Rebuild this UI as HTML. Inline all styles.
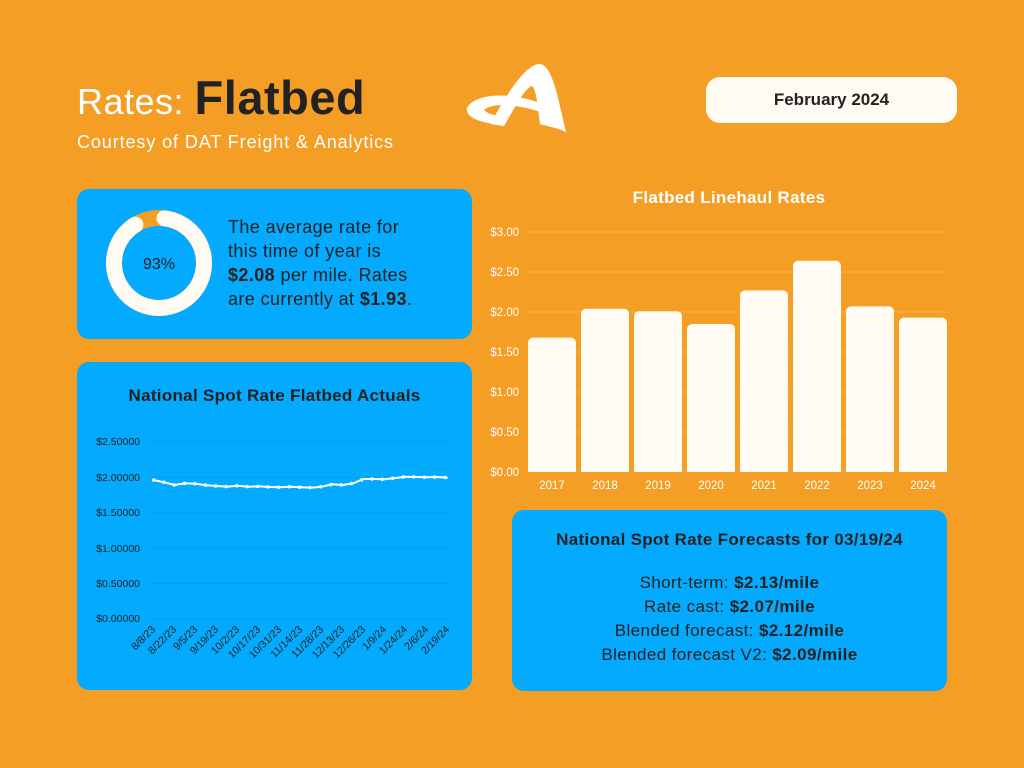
<!DOCTYPE html>
<html><head><meta charset="utf-8"><style>
body{margin:0;width:1024px;height:768px;background:#F59E25;font-family:"Liberation Sans",sans-serif;position:relative;overflow:hidden}
.a{position:absolute}
.card{position:absolute;background:#03AAFE;border-radius:12px}
.dk{color:#222}
</style></head><body>
<div class="a" style="left:77px;top:70px;font-size:36px;color:#fff;white-space:nowrap;letter-spacing:0.5px">Rates: <b class="dk" style="font-size:47px;letter-spacing:0.5px">Flatbed</b></div>
<div class="a" style="left:77px;top:132px;font-size:18px;color:#fff;letter-spacing:0.9px">Courtesy of DAT Freight &amp; Analytics</div>
<svg class="a" style="left:460px;top:58px" width="110" height="80" viewBox="0 0 110 80">
<path d="M30 66 C45 40 62 10 78 6 C92 4 98 40 106 74 C98 70 86 68 80 66 C78 50 76 30 72 28 C64 30 52 55 44 68 Z" fill="#fff"/>
<path d="M8 48 C20 34 55 34 88 48 L86 56 C60 46 32 44 24 52 C30 58 40 58 48 58 L42 66 C20 66 2 58 8 48 Z" fill="#fff"/>
</svg>
<div class="a" style="left:706px;top:77px;width:251px;height:46px;background:#FFFBF2;border-radius:14px;text-align:center;line-height:46px;font-weight:bold;font-size:17px;color:#222">February 2024</div>

<div class="card" style="left:77px;top:189px;width:395px;height:150px"></div>
<svg class="a" style="left:100px;top:205px" width="120" height="120">
<circle cx="59" cy="58" r="45" fill="none" stroke="#F59E25" stroke-width="16"/>
<circle cx="59" cy="58" r="45" fill="none" stroke="#FFFBF2" stroke-width="16" stroke-linecap="round" stroke-dasharray="252 300" transform="rotate(-83 59 58)"/>
<text x="59" y="64" text-anchor="middle" font-size="16" fill="#222" font-family="Liberation Sans">93%</text>
</svg>
<div class="a dk" style="left:228px;top:215px;font-size:18px;line-height:24px;width:240px;letter-spacing:0.4px;white-space:nowrap">The average rate for<br>this time of year is<br><b>$2.08</b> per mile. Rates<br>are currently at <b>$1.93</b>.</div>

<div class="card" style="left:77px;top:362px;width:395px;height:328px"></div>
<div class="a dk" style="left:77px;top:386px;width:395px;text-align:center;font-weight:bold;font-size:17px;letter-spacing:0.3px">National Spot Rate Flatbed Actuals</div>
<svg class="a" style="left:0;top:0" width="1024" height="768" font-family="Liberation Sans">
<g stroke="#0A9BE8" stroke-width="1">
<line x1="148" x2="452" y1="441.7" y2="441.7"/><line x1="148" x2="452" y1="477.2" y2="477.2"/><line x1="148" x2="452" y1="512.7" y2="512.7"/><line x1="148" x2="452" y1="548.2" y2="548.2"/><line x1="148" x2="452" y1="583.7" y2="583.7"/><line x1="148" x2="452" y1="619" y2="619"/>
</g>
<g font-size="10.5" fill="#222" text-anchor="end">
<text x="140" y="445">$2.50000</text><text x="140" y="481">$2.00000</text><text x="140" y="516">$1.50000</text><text x="140" y="552">$1.00000</text><text x="140" y="587">$0.50000</text><text x="140" y="622">$0.00000</text>
</g>
<polyline id="ln" fill="none" stroke="#fff" stroke-width="2" points="153.7,480 164.2,482.3 174.7,485 185.2,483.3 195.7,483.7 206.2,485.3 216.7,486 227.2,486.7 237.7,485.7 248.2,486.7 258.7,486.3 269.2,487 279.7,487.3 290.2,486.7 300.7,487.3 311.2,487.7 321.7,486.7 332.2,484.3 342.7,485 353.2,483.3 363.7,479 374.2,479 384.7,479.3 395.2,478 405.7,476.7 416.2,477 426.7,477.3 437.2,477 447.7,477.7"/>
<polyline fill="none" stroke="#fff" stroke-width="3.5" stroke-linecap="round" stroke-dasharray="0 10.5" points="153.7,480 164.2,482.3 174.7,485 185.2,483.3 195.7,483.7 206.2,485.3 216.7,486 227.2,486.7 237.7,485.7 248.2,486.7 258.7,486.3 269.2,487 279.7,487.3 290.2,486.7 300.7,487.3 311.2,487.7 321.7,486.7 332.2,484.3 342.7,485 353.2,483.3 363.7,479 374.2,479 384.7,479.3 395.2,478 405.7,476.7 416.2,477 426.7,477.3 437.2,477 447.7,477.7"/>
<g font-size="10.5" fill="#222" text-anchor="end">
<text transform="translate(156,630) rotate(-45)">8/8/23</text>
<text transform="translate(177,630) rotate(-45)">8/22/23</text>
<text transform="translate(198,630) rotate(-45)">9/5/23</text>
<text transform="translate(219,630) rotate(-45)">9/19/23</text>
<text transform="translate(240,630) rotate(-45)">10/2/23</text>
<text transform="translate(261,630) rotate(-45)">10/17/23</text>
<text transform="translate(282,630) rotate(-45)">10/31/23</text>
<text transform="translate(303,630) rotate(-45)">11/14/23</text>
<text transform="translate(324,630) rotate(-45)">11/28/23</text>
<text transform="translate(345,630) rotate(-45)">12/13/23</text>
<text transform="translate(366,630) rotate(-45)">12/26/23</text>
<text transform="translate(387,630) rotate(-45)">1/9/24</text>
<text transform="translate(408,630) rotate(-45)">1/24/24</text>
<text transform="translate(429,630) rotate(-45)">2/6/24</text>
<text transform="translate(450,630) rotate(-45)">2/19/24</text>
</g>

<text x="729" y="203" text-anchor="middle" font-size="17" font-weight="bold" fill="#fff" letter-spacing="0.3">Flatbed Linehaul Rates</text>
<g stroke="#F7B350" stroke-width="1">
<line x1="525" x2="948" y1="232" y2="232"/><line x1="525" x2="948" y1="272" y2="272"/><line x1="525" x2="948" y1="312" y2="312"/><line x1="525" x2="948" y1="352" y2="352"/><line x1="525" x2="948" y1="392" y2="392"/><line x1="525" x2="948" y1="432" y2="432"/><line x1="525" x2="948" y1="472" y2="472"/>
</g>
<g font-size="11.5" fill="#fff" text-anchor="end">
<text x="519" y="236">$3.00</text><text x="519" y="276">$2.50</text><text x="519" y="316">$2.00</text><text x="519" y="356">$1.50</text><text x="519" y="396">$1.00</text><text x="519" y="436">$0.50</text><text x="519" y="476">$0.00</text>
</g>
<g fill="#FFFBF2">
<rect x="528" y="337.6" width="48" height="140" rx="5"/>
<rect x="581" y="308.8" width="48" height="170" rx="5"/>
<rect x="634" y="311.2" width="48" height="170" rx="5"/>
<rect x="687" y="324" width="48" height="160" rx="5"/>
<rect x="740" y="290.4" width="48" height="190" rx="5"/>
<rect x="793" y="260.8" width="48" height="220" rx="5"/>
<rect x="846" y="306.4" width="48" height="170" rx="5"/>
<rect x="899" y="317.6" width="48" height="160" rx="5"/>
</g>
<rect x="520" y="472" width="430" height="12" fill="#F59E25"/>
<g font-size="11.5" fill="#fff" text-anchor="middle">
<text x="552" y="489">2017</text><text x="605" y="489">2018</text><text x="658" y="489">2019</text><text x="711" y="489">2020</text><text x="764" y="489">2021</text><text x="817" y="489">2022</text><text x="870" y="489">2023</text><text x="923" y="489">2024</text>
</g>
</svg>

<div class="card" style="left:512px;top:510px;width:435px;height:181px"></div>
<div class="a dk" style="left:512px;top:530px;width:435px;text-align:center;font-weight:bold;font-size:17px;letter-spacing:0.3px">National Spot Rate Forecasts for 03/19/24</div>
<div class="a dk" style="left:512px;top:571px;width:435px;text-align:center;font-size:17px;line-height:24px;letter-spacing:0.4px">Short-term: <b>$2.13/mile</b><br>Rate cast: <b>$2.07/mile</b><br>Blended forecast: <b>$2.12/mile</b><br>Blended forecast V2: <b>$2.09/mile</b></div>
</body></html>
